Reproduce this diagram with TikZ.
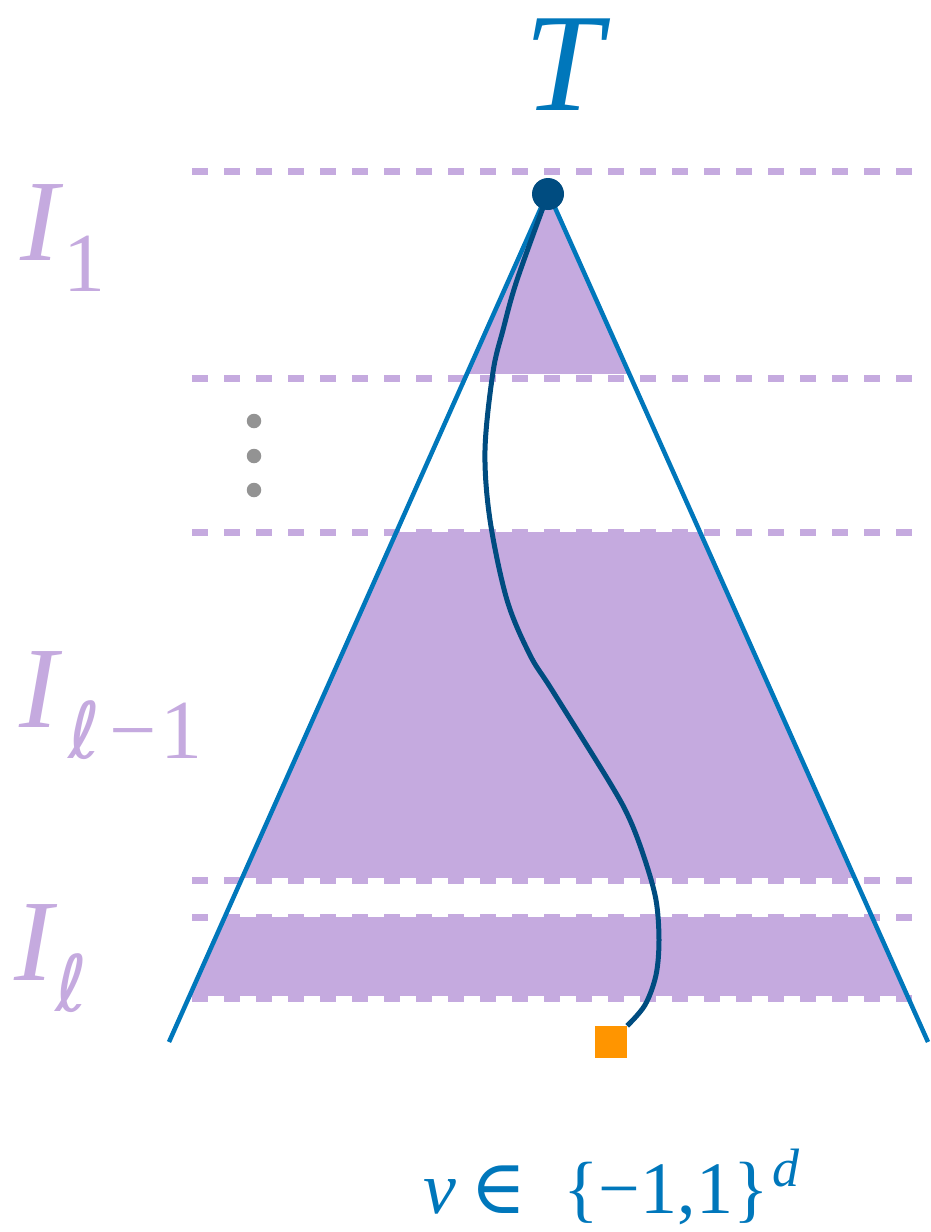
\documentclass[tikz,border=0pt]{standalone}
\usepackage{fontspec}
\setmainfont{Liberation Serif}
\newfontfamily\symf{DejaVu Serif}
\newfontfamily\ellf{DejaVu Sans}
\definecolor{lav}{HTML}{C5AADF}
\definecolor{tblue}{HTML}{0077BB}
\definecolor{dblue}{HTML}{004C80}
\definecolor{leafor}{HTML}{FF9500}
\definecolor{dotgray}{HTML}{939393}
\newcommand\Ilab[2]{\textit{I}\kern#2\raisebox{-31pt}{\fontsize{84}{84}\selectfont #1}}
\newcommand\ellc{{\ellf\itshape\fontsize{78}{78}\selectfont ℓ}}
\begin{document}
\begin{tikzpicture}[x=1pt,y=-1pt,
  level/.style={draw=lav, line width=7pt, dash pattern=on 16pt off 16pt},
  side/.style={draw=tblue, line width=4.5pt},
  walk/.style={draw=dblue, line width=5pt},
  lab/.style={text=lav, inner sep=0pt, anchor=base west, font=\fontsize{116}{116}\selectfont},
  vdot/.style={circle, fill=dotgray, inner sep=0pt, minimum size=14.5pt}
]
\useasboundingbox (0,0) rectangle (930,1232);
\coordinate (A) at (548,192);
\coordinate (BL) at (169,1042);
\coordinate (BR) at (928,1042);
% filled bands
\begin{scope}
  \clip (A) -- (BL) -- (BR) -- cycle;
  \fill[lav] (0,180) rectangle (930,374);
  \fill[lav] (0,532) rectangle (930,878);
  \fill[lav] (0,917) rectangle (930,996);
\end{scope}
% level lines
\foreach \yy in {171,378,532,880,917,998}
  \draw[level] (192,\yy) -- (912,\yy);
% tree sides
\draw[side] (A) -- (BL);
\draw[side] (A) -- (BR);
% root and leaf
\node[circle, fill=dblue, inner sep=0pt, minimum size=32pt] (root) at (548,194) {};
\node[fill=leafor, inner sep=0pt, minimum size=32pt] (leaf) at (611,1042) {};
% path
\draw[walk] plot[smooth, tension=0.55] coordinates {(root) (517,280) (503,330) (493,372) (485,450) (490,520) (507,600) (530,655) (552,690) (610,783) (630,820) (645,860) (656,900) (659,940) (656,975) (645,1005) (leaf.north east)};
% vertical dots
\node[vdot] (d1) at (254,421) {};
\node[vdot] (d2) at (254,456) {};
\node[vdot] (d3) at (254,490) {};
% labels
\node[text=tblue, inner sep=0pt, anchor=base, font=\fontsize{140}{140}\selectfont\itshape] (T) at (563,110) {T};
\node[lab] (I1) at (20,260) {\Ilab{1}{0pt}};
\node[lab] (Il1) at (19,727) {\Ilab{\ellc\kern9pt−\kern4pt1}{6pt}};
\node[lab] (Il) at (14,980) {\Ilab{\ellc}{-2pt}};
\node[text=tblue, inner sep=0pt, anchor=base west, font=\fontsize{74}{74}\selectfont] (v) at (423,1213) {\textit{v}\hspace{14pt}{\symf\fontsize{76}{76}\selectfont ∈}\hspace{37pt}\{−1,1\}\kern4pt\raisebox{27pt}{\fontsize{54}{54}\selectfont\textit{d}}};
\end{tikzpicture}
\end{document}
